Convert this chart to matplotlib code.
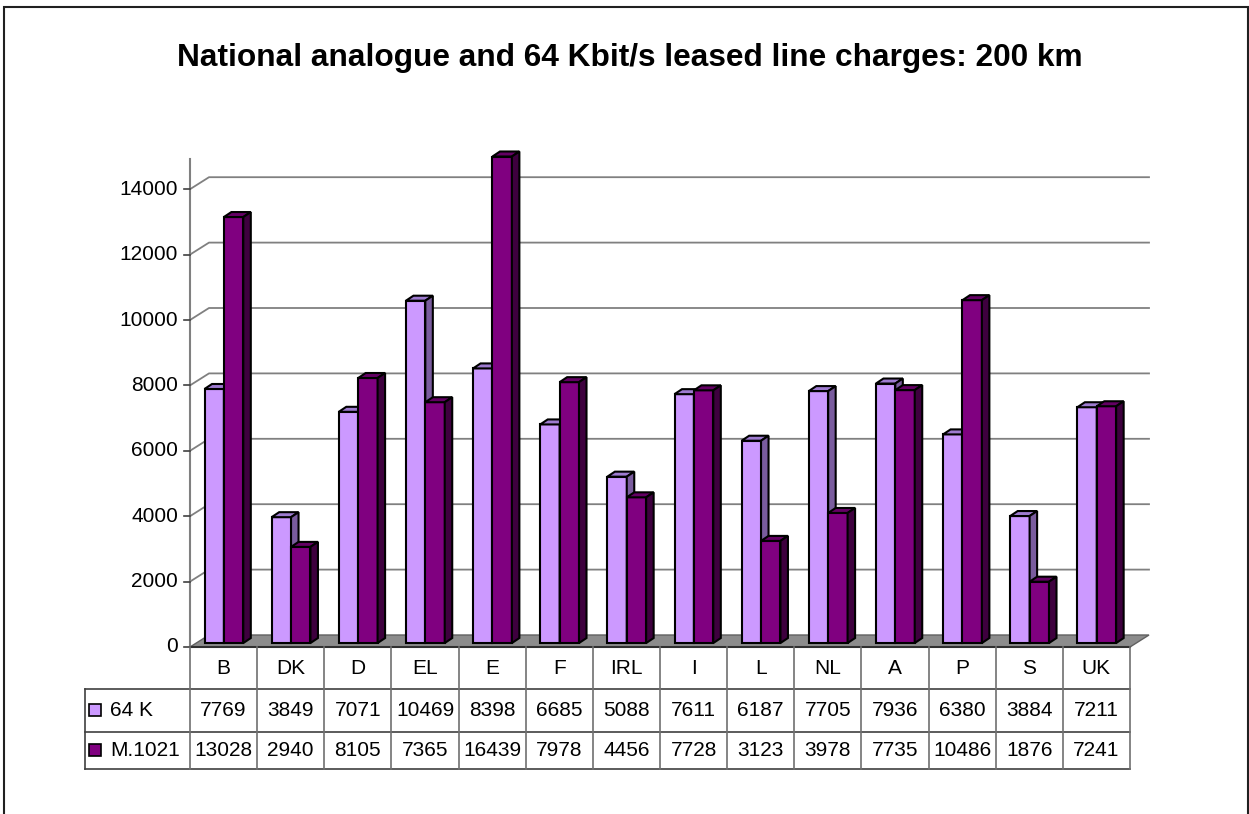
import matplotlib
matplotlib.use("Agg")
import matplotlib.pyplot as plt
from matplotlib.patches import Polygon, Rectangle

plt.rcParams['font.family'] = ['Liberation Sans', 'DejaVu Sans']

# data
countries = ['B', 'DK', 'D', 'EL', 'E', 'F', 'IRL', 'I', 'L', 'NL', 'A', 'P', 'S', 'UK']
k64 = [7769, 3849, 7071, 10469, 8398, 6685, 5088, 7611, 6187, 7705, 7936, 6380, 3884, 7211]
m1021 = [13028, 2940, 8105, 7365, 16439, 7978, 4456, 7728, 3123, 3978, 7735, 10486, 1876, 7241]
series_names = ['64 K', 'M.1021']
yticks = [0, 2000, 4000, 6000, 8000, 10000, 12000, 14000]
ymax = 15000

# colours: front, top, side
light = ('#CC99FF', '#9E7BD0', '#7A5C9E')
dark = ('#800080', '#640064', '#3E003E')

W, H = 1249, 814
fig = plt.figure(figsize=(W / 100, H / 100), dpi=100)

# outer frame (bottom edge falls outside the picture)
fig.patches.append(Rectangle((4 / W, -0.02), (1248 - 4) / W, 1 - 7 / H + 0.02,
                             transform=fig.transFigure, fill=False,
                             edgecolor='#202020', lw=1.5))

fig.text(0.504, 1 - 58 / H, 'National analogue and 64 Kbit/s leased line charges: 200 km',
         ha='center', va='center', fontsize=22.8, fontweight='bold')

# main plot area: x in categories, y in values
ax = fig.add_axes([190 / W, 1 - 647 / H, 940 / W, (647 - 156.5) / H])
n = len(countries)
ax.set_xlim(0, n)
ax.set_ylim(0, ymax)
ax.axis('off')

# pixel sizes in data units, wall depth offset
px_x = n / 940.0
px_y = ymax / (647 - 156.5)
dxw, dyw = 19 * px_x, 12 * px_y

# floor
ax.add_patch(Polygon([(0, 0), (n, 0), (n + dxw, dyw), (dxw, dyw)], closed=True,
                     facecolor='#8C8C8C', edgecolor='#606060', lw=1, clip_on=False))

# gridlines on back wall
for v in yticks[1:]:
    ax.plot([0, dxw, n + dxw], [v, v + dyw, v + dyw], color='#808080', lw=1.3,
            clip_on=False, zorder=1)
# y axis and ticks
ax.plot([0, 0], [0, ymax - 80], color='#808080', lw=1.5, clip_on=False, zorder=1)
for v in yticks:
    ax.plot([-6 * px_x, 0], [v, v], color='#404040', lw=1.2, clip_on=False)
    ax.text(-12 * px_x, v, str(v), ha='right', va='center', fontsize=15)

# 3D columns
bw = 19.4 * px_x
t0 = 0.33
bdx, bdy = 7.5 * px_x, 5 * px_y
for i in range(n):
    x0 = i + 14.5 * px_x
    y0 = t0 * dyw
    for j, (vals, cols) in enumerate([(k64, light), (m1021, dark)]):
        v = min(vals[i], ymax - y0)  # clipped at the axis maximum
        xl = x0 + j * bw
        xr = xl + bw
        yt = y0 + v
        ax.add_patch(Polygon([(xl, y0), (xr, y0), (xr, yt), (xl, yt)], closed=True,
                             facecolor=cols[0], edgecolor='black', lw=1.5,
                             clip_on=False, zorder=3))
        ax.add_patch(Polygon([(xl, yt), (xr, yt), (xr + bdx, yt + bdy), (xl + bdx, yt + bdy)],
                             closed=True, facecolor=cols[1], edgecolor='black', lw=1.5,
                             clip_on=False, zorder=3))
        ax.add_patch(Polygon([(xr, y0), (xr + bdx, y0 + bdy), (xr + bdx, yt + bdy), (xr, yt)],
                             closed=True, facecolor=cols[2], edgecolor='black', lw=1.5,
                             clip_on=False, zorder=3))

# data table
tax = fig.add_axes([85 / W, 1 - 769 / H, (1130 - 85) / W, (769 - 647) / H])
lab_w = 105 / 67.14
tax.set_xlim(-lab_w, n)
tax.set_ylim(122, 0)
tax.axis('off')
rows = [0, 42, 84.5, 122]
lc = '#404040'
tax.plot([0, n], [0, 0], color='#303030', lw=1.5, clip_on=False)
for r in rows[1:]:
    tax.plot([-lab_w, n], [r, r], color=lc, lw=1.2, clip_on=False)
for i in range(n + 1):
    tax.plot([i, i], [0, rows[-1]], color='#707070', lw=1.2, clip_on=False)
tax.plot([-lab_w, -lab_w], [rows[1], rows[-1]], color=lc, lw=1.2, clip_on=False)

for i, c in enumerate(countries):
    tax.text(i + 0.5, (rows[0] + rows[1]) / 2, c, ha='center', va='center', fontsize=15)
    tax.text(i + 0.5, (rows[1] + rows[2]) / 2, str(k64[i]), ha='center', va='center', fontsize=15)
    tax.text(i + 0.5, (rows[2] + rows[3]) / 2, str(m1021[i]), ha='center', va='center', fontsize=15)

# legend keys in the row labels
for k, (name, cols) in enumerate(zip(series_names, [light, dark])):
    yc = (rows[k + 1] + rows[k + 2]) / 2
    tax.add_patch(Rectangle((-lab_w + 4 / 67.14, yc - 6), 12 / 67.14, 12,
                            facecolor=cols[0], edgecolor='black', lw=1.2, clip_on=False))
    tax.text(-lab_w + 25 / 67.14, yc, name, ha='left', va='center', fontsize=15)

fig.savefig('out.png', dpi=100)
